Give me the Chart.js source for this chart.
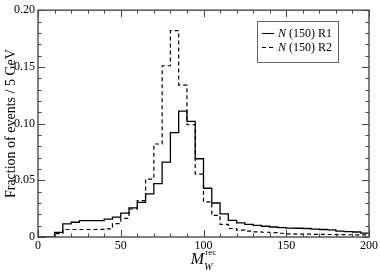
<!DOCTYPE html>
<html><head><meta charset="utf-8">
<script src="https://cdn.jsdelivr.net/npm/chart.js@4"></script>
<style>html,body{margin:0;padding:0;background:#fff}canvas{display:block}</style>
</head><body>
<canvas id="c" width="380" height="273"></canvas>
<script>
// Bin left edges (GeV), bin width 5
const binWidth = 5;
const binEdges = [0,5,10,15,20,25,30,35,40,45,50,55,60,65,70,75,80,85,90,95,
                  100,105,110,115,120,125,130,135,140,145,150,155,160,165,170,175,180,185,190,195];
// N(150) R1 (solid)
const r1Values = [0,0,0.004,0.0115,0.013,0.0144,0.0144,0.0145,0.0158,0.0175,
                  0.021,0.0256,0.0305,0.038,0.047,0.066,0.092,0.111,0.102,0.069,
                  0.043,0.030,0.0204,0.0147,0.0124,0.0112,0.0103,0.0095,0.0088,0.0082,
                  0.0078,0.0077,0.0075,0.0070,0.0066,0.0062,0.0052,0.0047,0.0044,0.0035];
// N(150) R2 (dashed)
const r2Values = [0,0,0.003,0.0066,0.0066,0.0066,0.0066,0.0068,0.0072,0.0118,
                  0.0165,0.0247,0.032,0.051,0.082,0.151,0.182,0.134,0.099,0.0555,
                  0.031,0.019,0.0112,0.0075,0.006,0.0052,0.0046,0.0042,0.0038,0.0033,
                  0.0028,0.0026,0.0025,0.0024,0.0023,0.0022,0.0021,0.002,0.0019,0.0018];
const seriesLabels = ['N (150) R1','N (150) R2'];
const xTickValues = [0,50,100,150,200];
const yTickValues = [0,0.05,0.10,0.15,0.20];
const xMinorStep = 10;
const yMinorStep = 0.01;

function histPoints(vals){
  const pts = binEdges.map((e,i)=>({x:e, y:vals[i]}));
  pts.push({x: binEdges[binEdges.length-1] + binWidth, y: vals[vals.length-1]});
  return pts;
}

const SERIF = '"Liberation Serif", "DejaVu Serif", serif';

const decor = {
  id:'decor',
  afterDraw(chart){
    const {ctx, chartArea:a, scales:{x,y}} = chart;
    ctx.save();
    // frame
    ctx.strokeStyle = '#555'; ctx.lineWidth = 1.5;
    ctx.strokeRect(a.left, a.top, a.right-a.left, a.bottom-a.top);
    // inward ticks
    ctx.lineWidth = 1; ctx.strokeStyle = '#444';
    ctx.beginPath();
    const xmin = xTickValues[0], xmax = xTickValues[xTickValues.length-1];
    for (let k=0; xmin + k*xMinorStep <= xmax + 1e-9; k++){
      const v = xmin + k*xMinorStep;
      const px = Math.round(x.getPixelForValue(v)) + 0.5;
      const L = xTickValues.includes(v) ? 7 : 3.5;
      ctx.moveTo(px, a.bottom); ctx.lineTo(px, a.bottom - L);
      ctx.moveTo(px, a.top); ctx.lineTo(px, a.top + L);
    }
    const ymin = yTickValues[0], ymax = yTickValues[yTickValues.length-1];
    for (let k=0; ymin + k*yMinorStep <= ymax + 1e-9; k++){
      const v = ymin + k*yMinorStep;
      const py = Math.round(y.getPixelForValue(v)) + 0.5;
      const major = yTickValues.some(t=>Math.abs(t-v)<1e-9);
      const L = major ? 7 : 3.5;
      ctx.moveTo(a.left, py); ctx.lineTo(a.left + L, py);
      ctx.moveTo(a.right, py); ctx.lineTo(a.right - L, py);
    }
    ctx.stroke();

    // y title
    ctx.fillStyle = '#000';
    ctx.save();
    ctx.translate(15, (a.top + a.bottom)/2);
    ctx.rotate(-Math.PI/2);
    ctx.font = '14px ' + SERIF;
    ctx.textAlign = 'center'; ctx.textBaseline = 'alphabetic';
    ctx.fillText('Fraction of events / 5 GeV', 0, 0);
    ctx.restore();

    // x title  M_W^rec
    const cx = (a.left + a.right)/2;
    ctx.textAlign = 'left'; ctx.textBaseline = 'alphabetic';
    ctx.font = 'italic 16px ' + SERIF;
    const mW = ctx.measureText('M').width;
    const x0 = cx - mW/2 - 6;
    ctx.fillText('M', x0, 264);
    ctx.font = 'italic 10px ' + SERIF;
    ctx.fillText('W', x0 + mW, 270);
    ctx.font = '9px ' + SERIF;
    ctx.fillText('rec', x0 + mW + 1, 255);

    // legend
    const bx = 257, by = 21, bw = 81, bh = 41;
    ctx.strokeStyle = '#666'; ctx.lineWidth = 1;
    ctx.strokeRect(bx+0.5, by+0.5, bw, bh);
    const rows = [33, 47];
    chart.data.datasets.forEach((ds,i)=>{
      const ry = rows[i];
      ctx.strokeStyle = '#000'; ctx.lineWidth = 1;
      ctx.setLineDash(ds.borderDash || []);
      ctx.beginPath(); ctx.moveTo(262, ry+0.5); ctx.lineTo(274, ry+0.5); ctx.stroke();
      ctx.setLineDash([]);
      const lbl = ds.label;
      ctx.textBaseline = 'middle';
      ctx.font = 'italic 12px ' + SERIF;
      ctx.fillText(lbl[0], 278, ry + 1);
      const w = ctx.measureText(lbl[0]).width;
      ctx.font = '12px ' + SERIF;
      ctx.fillText(lbl.slice(1), 278 + w, ry + 1);
    });
    ctx.restore();
  }
};

new Chart(document.getElementById('c'), {
  type: 'line',
  data: {
    datasets: [
      {label: seriesLabels[0], data: histPoints(r1Values), borderColor:'#000', borderWidth:1.3,
       stepped:'before', pointRadius:0, fill:false},
      {label: seriesLabels[1], data: histPoints(r2Values), borderColor:'#000', borderWidth:1.2,
       borderDash:[4,3], stepped:'before', pointRadius:0, fill:false}
    ]
  },
  options: {
    responsive:false, animation:false,
    layout:{padding:{top:5, right:8, left:0, bottom:0}},
    plugins:{legend:{display:false}, tooltip:{enabled:false}},
    scales:{
      x:{type:'linear', min:0, max:200,
         grid:{display:false, drawTicks:false}, border:{display:false},
         afterFit(s){ s.height = 36; },
         afterBuildTicks(s){ s.ticks = xTickValues.map(v=>({value:v})); },
         ticks:{font:{family:SERIF, size:12}, color:'#000', padding:2, maxRotation:0,
                callback:v=>String(v)}},
      y:{type:'linear', min:0, max:0.2,
         grid:{display:false, drawTicks:false}, border:{display:false},
         afterFit(s){ s.width = 38; },
         afterBuildTicks(s){ s.ticks = yTickValues.map(v=>({value:v})); },
         ticks:{font:{family:SERIF, size:12}, color:'#000', padding:3,
                callback:v=> v===0 ? '0' : v.toFixed(2)}}
    }
  },
  plugins:[decor]
});
</script>
</body></html>
